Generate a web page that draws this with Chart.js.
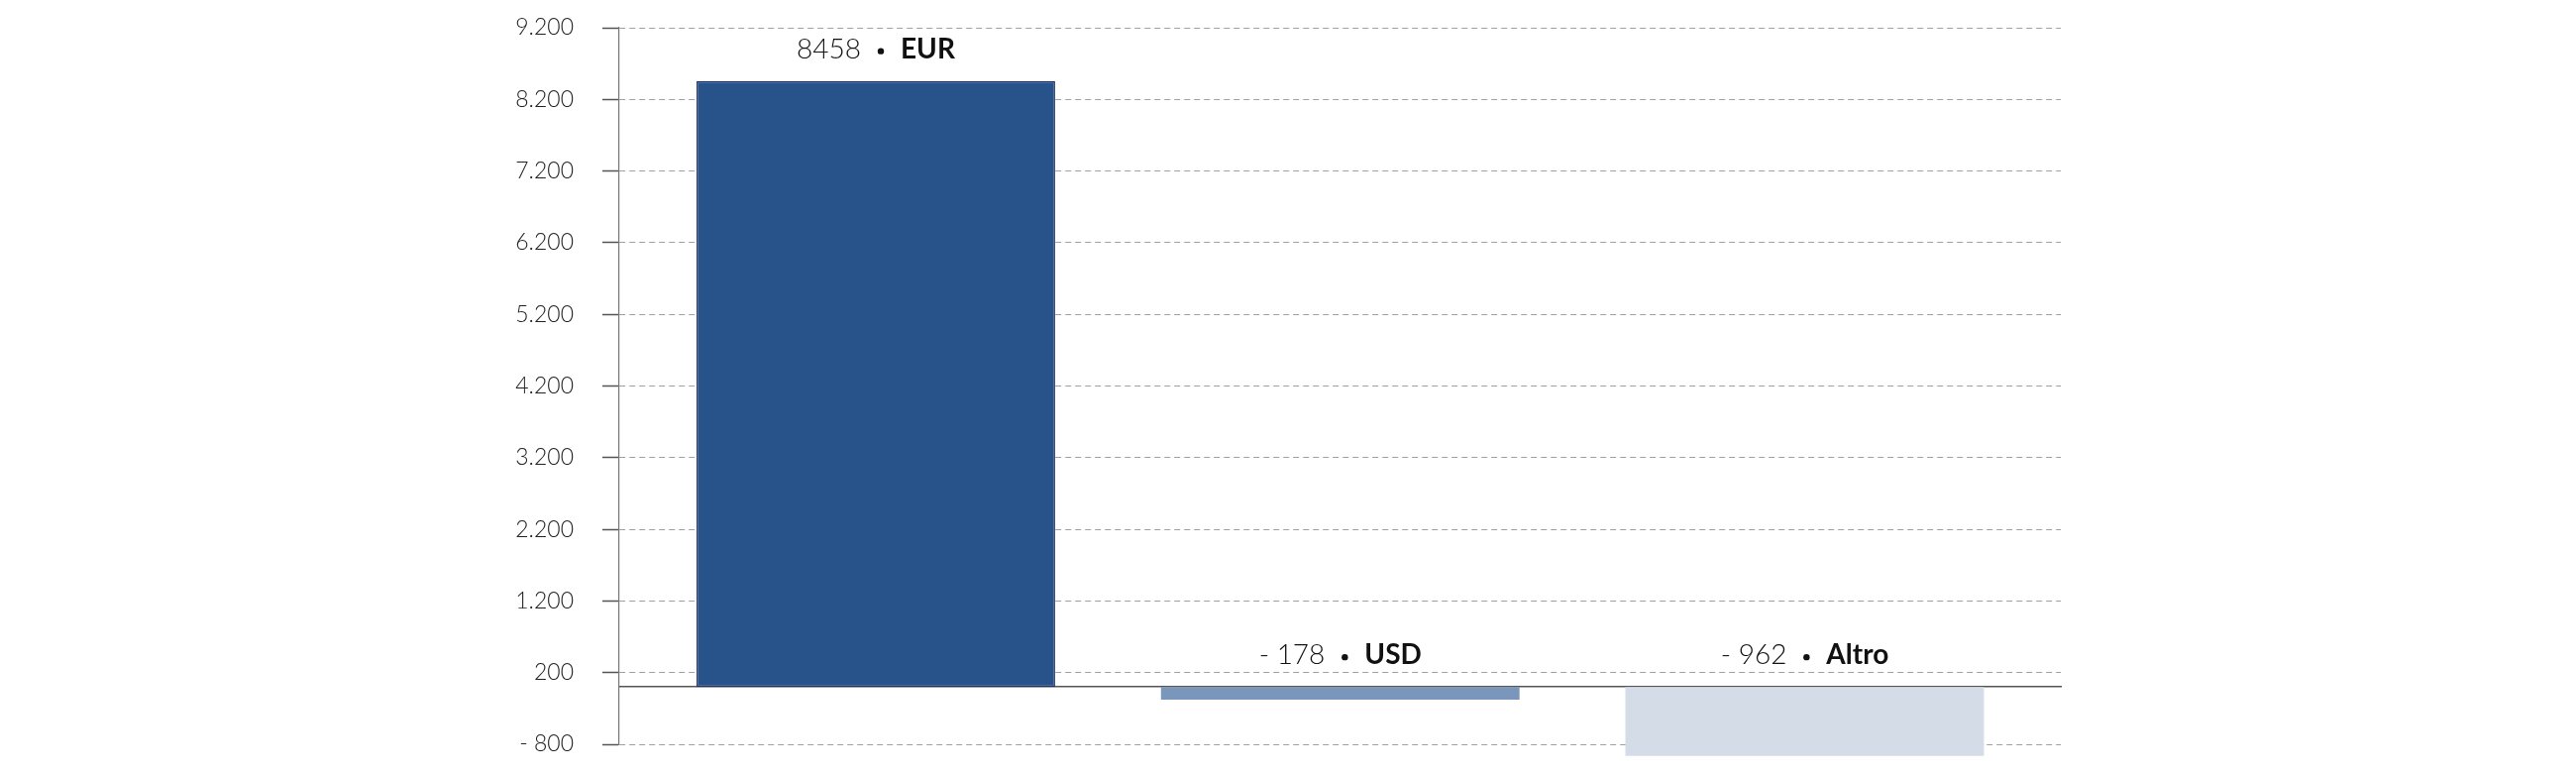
<!DOCTYPE html>
<html lang="it">
<head>
<meta charset="utf-8">
<title>Esposizione per valuta</title>
<script src="https://cdn.jsdelivr.net/npm/chart.js@4.4.0/dist/chart.umd.min.js"></script>
<style>
  html, body { margin: 0; padding: 0; background: #fff; }
  #wrap { width: 2600px; height: 780px; }
</style>
</head>
<body>
<div id="wrap"><canvas id="chart"></canvas></div>
<script>
// Dati del grafico
const valute = ['EUR', 'USD', 'Altro'];
const valori = [8458, -178, -962];

// Asse Y: da -800 a 9.200 a passi di 1.000
const yMin = -800;
const yMax = 9200;
const yPasso = 1000;

const coloriBarre = ['#27528a', '#7b96bb', '#d3dce7'];
const bordiBarre = ['#1b2f66', '#7b96bb', '#d3dce7'];

// 9200 -> "9.200", -800 -> "- 800"
function formatTick(v) {
    const n = String(Math.abs(v)).replace(/\B(?=(\d{3})+(?!\d))/g, '.');
    return v < 0 ? '- ' + n : n;
}

function formatValore(v) {
    return v < 0 ? '- ' + Math.abs(v) : String(v);
}

// Etichette sopra le barre: "8458 • EUR"
const etichetteBarre = {
    id: 'etichetteBarre',
    afterDatasetsDraw(chart) {
        const ctx = chart.ctx;
        const meta = chart.getDatasetMeta(0);
        const fontLight = '300 28px Lato';
        const fontBold = '700 28px Lato';
        const gap = 20; // distanza fra testo e centro del pallino

        meta.data.forEach((bar, i) => {
            const top = Math.min(bar.y, bar.base);
            const numero = formatValore(valori[i]);
            const nome = valute[i];

            ctx.save();
            ctx.font = fontLight;
            const wNum = ctx.measureText(numero).width;
            ctx.font = fontBold;
            const wNome = ctx.measureText(nome).width;
            const totale = wNum + 2 * gap + wNome;

            let x = bar.x - totale / 2;
            const y = top - 23;
            ctx.fillStyle = '#111';
            ctx.textBaseline = 'alphabetic';
            ctx.textAlign = 'left';

            ctx.font = fontLight;
            ctx.fillText(numero, x, y);
            x += wNum + gap;

            ctx.beginPath();
            ctx.arc(x, y - 7, 3.2, 0, Math.PI * 2);
            ctx.fill();
            x += gap;

            ctx.font = fontBold;
            ctx.fillText(nome, x, y);
            ctx.restore();
        });
    }
};

const ctx = document.getElementById('chart').getContext('2d');
new Chart(ctx, {
    type: 'bar',
    data: {
        datasets: [{
            data: valori.map((v, i) => ({ x: i, y: v })),
            backgroundColor: coloriBarre,
            borderColor: bordiBarre,
            borderWidth: [1.5, 0, 0],
            borderSkipped: false,
            barPercentage: 0.772,
            categoryPercentage: 1,
            clip: false
        }]
    },
    options: {
        responsive: true,
        maintainAspectRatio: false,
        devicePixelRatio: 1,
        animation: false,
        layout: {
            padding: { left: 0, right: 520, top: 28, bottom: 29 }
        },
        plugins: {
            legend: { display: false },
            tooltip: { enabled: false }
        },
        scales: {
            x: {
                type: 'linear',
                offset: false,
                min: -0.5525,
                max: 2.5515,
                position: { y: 0 },
                // un tick per ogni valuta, così la larghezza delle barre segue la categoria
                afterBuildTicks(scale) {
                    scale.ticks = valute.map((_, i) => ({ value: i }));
                },
                grid: { display: false },
                ticks: { display: false },
                border: { display: true, color: '#555', width: 1.5 }
            },
            y: {
                min: yMin,
                max: yMax,
                afterFit(scale) {
                    scale.width = 625;
                    // niente spazio extra sopra e sotto per le etichette
                    scale.paddingTop = 0;
                    scale.paddingBottom = 0;
                },
                ticks: {
                    stepSize: yPasso,
                    padding: 29,
                    color: '#222',
                    font: { family: 'Lato', weight: '300', size: 23 },
                    callback: (v) => formatTick(v)
                },
                grid: {
                    color: '#a0a0a0',
                    lineWidth: 1,
                    tickLength: 17,
                    tickColor: '#555',
                    tickWidth: 1.5
                },
                border: { display: true, color: '#777', width: 1.2, dash: [6, 4] }
            }
        }
    },
    plugins: [etichetteBarre]
});
</script>
</body>
</html>
